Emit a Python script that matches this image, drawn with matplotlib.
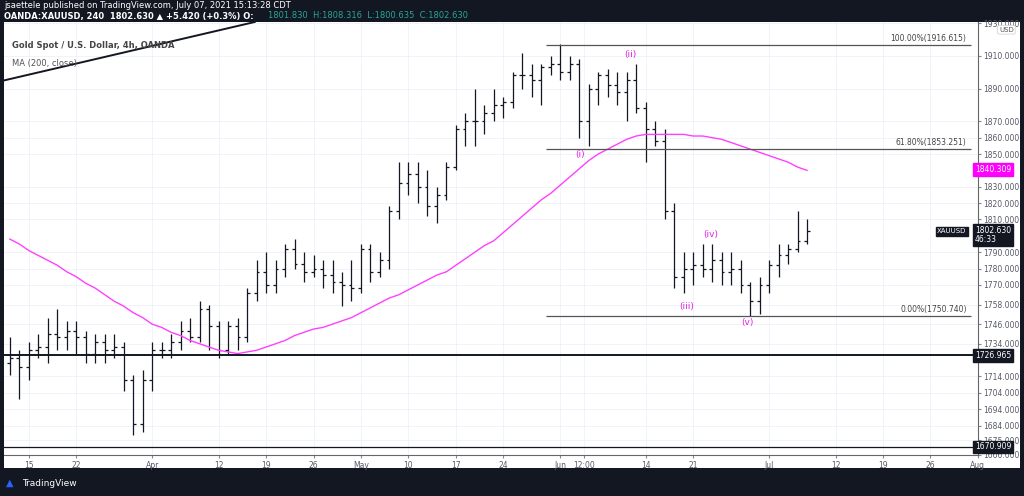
import numpy as np
import pandas as pd
import matplotlib
matplotlib.use("Agg")
import matplotlib.pyplot as plt

dates = list(pd.bdate_range("2021-03-11", "2021-07-07"))
opens = [1722,1725,1720,1730,1732,1740,1738,1742,1738,1728,1735,1730,1732,1712,1685,
         1712,1730,1730,1735,1742,1738,1755,1745,1730,1745,1738,1765,1778,1770,1780,1792,1783,
         1778,1780,1776,1772,1770,1768,1792,1778,1785,1815,1832,1838,1830,1818,1825,1842,1865,
         1870,1870,1875,1880,1882,1898,1898,1895,1903,1905,1900,1905,1870,1890,1898,1892,1888,
         1895,1878,1865,1858,1815,1775,1780,1782,1780,1785,1778,1780,1770,1760,1770,1782,1788,1792,1797]
highs = [1738,1730,1735,1740,1750,1755,1748,1748,1742,1740,1740,1740,1735,1715,1718,
         1735,1735,1740,1748,1750,1760,1758,1748,1748,1750,1768,1785,1790,1785,1795,1798,1790,
         1788,1785,1785,1778,1785,1795,1795,1790,1818,1845,1845,1845,1840,1830,1845,1868,1875,
         1890,1880,1890,1885,1900,1912,1905,1905,1910,1917,1910,1908,1893,1900,1902,1900,1900,
         1905,1882,1870,1865,1820,1790,1790,1795,1795,1790,1790,1785,1772,1775,1785,1795,1795,1815,1810]
lows = [1715,1700,1712,1725,1722,1730,1730,1728,1722,1722,1722,1725,1705,1678,1680,
        1705,1725,1725,1730,1735,1735,1730,1725,1728,1730,1735,1760,1765,1765,1775,1780,1772,
        1775,1768,1765,1757,1760,1765,1772,1775,1780,1810,1825,1820,1812,1808,1822,1840,1855,
        1855,1862,1870,1872,1878,1890,1885,1880,1898,1895,1895,1860,1855,1880,1885,1880,1870,
        1875,1845,1855,1810,1768,1765,1770,1775,1772,1770,1770,1765,1751,1752,1765,1775,1783,1790,1795]
closes = [1725,1720,1730,1732,1740,1738,1742,1738,1728,1735,1730,1732,1712,1685,1712,
          1730,1730,1735,1742,1738,1755,1745,1730,1745,1738,1765,1778,1770,1780,1792,1783,1778,
          1780,1776,1772,1770,1768,1792,1778,1785,1815,1832,1838,1830,1818,1825,1842,1865,1870,
          1870,1875,1880,1882,1898,1898,1895,1903,1905,1900,1905,1870,1890,1898,1892,1888,1895,
          1878,1865,1858,1815,1775,1780,1782,1780,1785,1778,1780,1770,1760,1770,1782,1788,1792,1797,1802.63]
ma200 = [1798,1795,1791,1788,1785,1782,1778,1775,1771,1768,1764,1760,1757,1753,1750,1746,1744,
         1741,1739,1736,1734,1732,1730,1729,1728,1729,1730,1732,1734,1736,1739,1741,1743,1744,
         1746,1748,1750,1753,1756,1759,1762,1764,1767,1770,1773,1776,1778,1782,1786,1790,1794,
         1797,1802,1807,1812,1817,1822,1826,1831,1836,1841,1846,1850,1853,1856,1859,1861,1862,
         1862,1862,1862,1862,1861,1861,1860,1859,1857,1855,1853,1851,1849,1847,1845,1842,1840]
n = min(len(dates), len(opens), len(highs), len(lows), len(closes), len(ma200))
x = np.arange(n)

tick_labels = ["15","22","Apr","12","19","26","May","10","17","24","Jun","12:00","14","21","Jul","12","19","26","Aug"]
tick_dates = ["2021-03-15","2021-03-22","2021-04-01","2021-04-12","2021-04-19","2021-04-26","2021-05-03",
              "2021-05-10","2021-05-17","2021-05-24","2021-06-01",None,"2021-06-14","2021-06-21",
              "2021-07-01","2021-07-12","2021-07-19","2021-07-26","2021-08-02"]
allb = list(pd.bdate_range("2021-03-11", "2021-08-10"))
tick_pos = []
for d in tick_dates:
    if d is None:
        tick_pos.append(60.5)
    else:
        tick_pos.append(allb.index(pd.Timestamp(d)))

yticks = [1666,1675,1684,1694,1704,1714,1734,1746,1758,1770,1780,1790,1810,1820,1830,1850,1860,1870,1890,1910,1930]

dark = "#131722"
fig = plt.figure(figsize=(10.24, 4.96), dpi=100)
fig.patch.set_facecolor("white")
fig.patches.append(plt.Rectangle((0, 1-22/496), 1, 22/496, transform=fig.transFigure,
                                 facecolor=dark, zorder=-5))
fig.patches.append(plt.Rectangle((0, 0), 1, 28/496, transform=fig.transFigure,
                                 facecolor=dark, zorder=-5))
fig.patches.append(plt.Rectangle((0, 0), 0.004, 1, transform=fig.transFigure,
                                 facecolor=dark, zorder=-5))
fig.patches.append(plt.Rectangle((0.996, 0), 0.004, 1, transform=fig.transFigure,
                                 facecolor=dark, zorder=-5))
ax = fig.add_axes([0.004, 1-455/496, 0.951, (455-22)/496])
ax.set_facecolor("white")

for i in range(n):
    ax.vlines(x[i], lows[i], highs[i], color=dark, lw=0.9)
    ax.hlines(opens[i], x[i]-0.3, x[i], color=dark, lw=0.9)
    ax.hlines(closes[i], x[i], x[i]+0.3, color=dark, lw=0.9)
ax.plot(x, ma200[:n], color="#ff40ff", lw=1.0)

ax.set_xlim(-0.6, 101.3)
ax.set_ylim(1667.8, 1930.7)
ax.yaxis.tick_right()
ax.set_yticks(yticks)
ax.set_yticklabels([f"{v:.3f}" for v in yticks], fontsize=5.5, color="#555a66")
ax.set_xticks(tick_pos)
ax.set_xticklabels(tick_labels, fontsize=5.5, color="#555a66")
ax.tick_params(length=2, color="#888", pad=2)
ax.grid(True, color="#eef1f8", lw=0.6)
for s in ["top", "left"]:
    ax.spines[s].set_visible(False)
ax.spines["right"].set_color("#666")
ax.spines["bottom"].set_color("#666")

# fib levels
xs = 56.5
for lvl, txt in [(1916.615, "100.00%(1916.615)"), (1853.251, "61.80%(1853.251)"), (1750.740, "0.00%(1750.740)")]:
    ax.hlines(lvl, xs, 101.3, color="#555", lw=0.9)
    ax.text(100.8, lvl + 1.2, txt, fontsize=5.5, color="#444", ha="right", va="bottom")
ax.axhline(1726.965, color=dark, lw=1.4)
ax.axhline(1670.909, color=dark, lw=0.9)
ax.plot([-0.6, 25.8], [1895, 1930.7], color=dark, lw=1.4, clip_on=True)

for t, xi, yi in [("(i)", 60.1, 1850), ("(ii)", 65.4, 1911), ("(iii)", 71.3, 1757), ("(iv)", 73.8, 1801), ("(v)", 77.7, 1747)]:
    ax.text(xi, yi, t, color="#e020e0", fontsize=6.5, ha="center", va="center")

def tag(y, txt, fc):
    ax.text(101.7, y, txt, fontsize=5.5, color="white", ha="left", va="center", clip_on=False,
            bbox=dict(boxstyle="square,pad=0.25", fc=fc, ec=fc), zorder=5)
tag(1726.965, "1726.965", dark)
tag(1670.909, "1670.909", dark)
tag(1840.309, "1840.309", "#ff00ff")
ax.text(101.7, 1800.5, "1802.630\n46:33", fontsize=5.5, color="white", ha="left", va="center",
        clip_on=False, linespacing=1.1, bbox=dict(boxstyle="square,pad=0.25", fc=dark, ec=dark), zorder=5)
ax.text(100.8, 1802.63, "XAUUSD", fontsize=5, color="white", ha="right", va="center",
        bbox=dict(boxstyle="square,pad=0.2", fc=dark, ec=dark))
ax.text(105.0, 1926, "USD", fontsize=5, color="#555", ha="center", va="center", clip_on=False,
        bbox=dict(boxstyle="round,pad=0.2", fc="white", ec="#ccc", lw=0.5))

ax.text(0.008, 0.955, "Gold Spot / U.S. Dollar, 4h, OANDA", transform=ax.transAxes, fontsize=6,
        color="#444", fontweight="bold", va="top")
ax.text(0.008, 0.915, "MA (200, close)", transform=ax.transAxes, fontsize=6, color="#555", va="top")

fig.text(0.004, 1-6/496, "jsaettele published on TradingView.com, July 07, 2021 15:13:28 CDT",
         fontsize=6, color="white", va="center")
fig.text(0.004, 1-16/496, "OANDA:XAUUSD, 240  1802.630 ▲ +5.420 (+0.3%) O:", fontsize=6, color="white",
         va="center", fontweight="bold")
fig.text(0.262, 1-16/496, "1801.830  H:1808.316  L:1800.635  C:1802.630", fontsize=6, color="#26a69a", va="center")
fig.text(0.022, 1-483/496, "TradingView", fontsize=6.5, color="white", va="center")
fig.text(0.006, 1-483/496, "▲", fontsize=7, color="#2962ff", va="center")

fig.savefig("out.png", dpi=100, facecolor=fig.get_facecolor())
